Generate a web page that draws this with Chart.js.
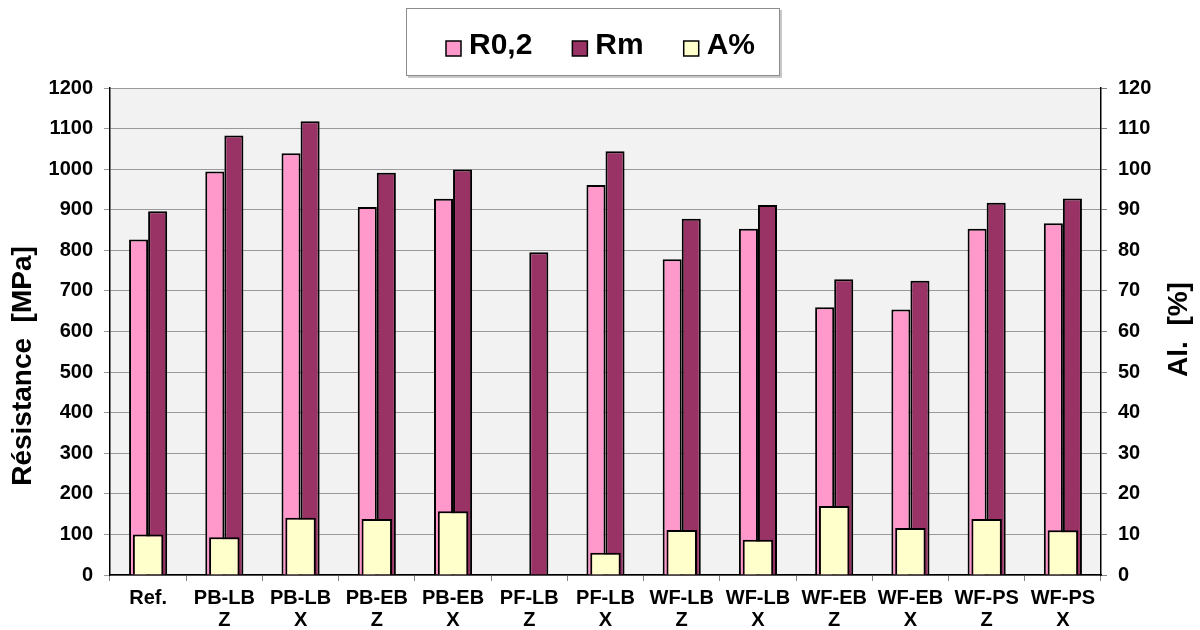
<!DOCTYPE html>
<html>
<head>
<meta charset="utf-8">
<script src="https://cdn.jsdelivr.net/npm/chart.js@4.4.1/dist/chart.umd.min.js"></script>
<style>
  html, body { margin: 0; padding: 0; background: #fff; }
  #wrap { width: 1200px; height: 630px; }
</style>
</head>
<body>
<div id="wrap"><canvas id="myChart" width="1200" height="630"></canvas></div>
<script>
// categories (two-line tick labels)
const categories = [
  ["Ref."], ["PB-LB", "Z"], ["PB-LB", "X"], ["PB-EB", "Z"], ["PB-EB", "X"],
  ["PF-LB", "Z"], ["PF-LB", "X"], ["WF-LB", "Z"], ["WF-LB", "X"],
  ["WF-EB", "Z"], ["WF-EB", "X"], ["WF-PS", "Z"], ["WF-PS", "X"]
];

// series values
const r02 = [827, 994, 1039, 907, 927, null, 961, 778, 853, 660, 654, 853, 867];
const rm = [896, 1083, 1118, 991, 999, 795, 1044, 878, 912, 729, 725, 917, 928];
const aPct = [10.0, 9.3, 14.1, 13.8, 15.7, null, 5.5, 11.1, 8.7, 17.0, 11.6, 13.8, 11.0];

const seriesNames = ["R0,2", "Rm", "A%"];
const leftTitle = "Résistance  [MPa]";
const rightTitle = "Al.  [%]";

const FONT = '"Liberation Sans", Arial, sans-serif';

// grey plot background
const plotBg = {
  id: "plotBg",
  beforeDraw(chart) {
    const { ctx, chartArea: a } = chart;
    ctx.save();
    ctx.fillStyle = "#f2f2f2";
    ctx.fillRect(a.left, a.top, a.right - a.left, a.bottom - a.top);
    ctx.restore();
  }
};

// boxed legend at the top + rotated axis titles
const extras = {
  id: "extras",
  afterDraw(chart) {
    const ctx = chart.ctx;
    const a = chart.chartArea;
    ctx.save();

    // legend frame
    ctx.fillStyle = "#c8c8c8";
    ctx.fillRect(408, 10, 374, 68);
    ctx.fillStyle = "#fff";
    ctx.fillRect(406, 8, 374, 68);
    ctx.strokeStyle = "#8c8c8c";
    ctx.lineWidth = 1;
    ctx.strokeRect(406.5, 8.5, 373, 67);

    ctx.font = "bold 30px " + FONT;
    ctx.textBaseline = "alphabetic";
    ctx.textAlign = "left";
    let x = 446;
    chart.data.datasets.forEach(ds => {
      ctx.fillStyle = ds.backgroundColor;
      ctx.fillRect(x, 41, 15, 15);
      ctx.strokeStyle = "#000";
      ctx.lineWidth = 1.5;
      ctx.strokeRect(x, 41, 15, 15);
      ctx.fillStyle = "#000";
      ctx.fillText(ds.label, x + 23, 53.5);
      x += 23 + ctx.measureText(ds.label).width + 40;
    });

    // axis titles, both reading bottom to top
    ctx.font = "bold 28px " + FONT;
    ctx.textAlign = "center";
    ctx.textBaseline = "middle";
    ctx.fillStyle = "#000";

    ctx.save();
    ctx.translate(23, 366);
    ctx.rotate(-Math.PI / 2);
    ctx.fillText(leftTitle, 0, 0);
    ctx.restore();

    ctx.save();
    ctx.translate(1179, (a.top + a.bottom) / 2 - 2);
    ctx.rotate(-Math.PI / 2);
    ctx.fillText(rightTitle, 0, 0);
    ctx.restore();

    ctx.restore();
  }
};

const tickFont = { family: FONT, size: 20, weight: "bold", lineHeight: 22 / 20 };

const config = {
  type: "bar",
  data: {
    labels: categories,
    datasets: [
      {
        label: seriesNames[0],
        data: r02,
        backgroundColor: "#ff99cc",
        borderColor: "#000",
        borderWidth: 2,
        yAxisID: "y",
        categoryPercentage: 0.5,
        barPercentage: 1,
        order: 1
      },
      {
        label: seriesNames[1],
        data: rm,
        backgroundColor: "#993366",
        borderColor: "#000",
        borderWidth: 2,
        yAxisID: "y",
        categoryPercentage: 0.5,
        barPercentage: 1,
        order: 1
      },
      {
        label: seriesNames[2],
        data: aPct,
        backgroundColor: "#ffffcc",
        borderColor: "#000",
        borderWidth: 2,
        yAxisID: "y2",
        grouped: false,
        categoryPercentage: 1,
        barPercentage: 0.4,
        order: 0
      }
    ]
  },
  options: {
    responsive: false,
    animation: false,
    layout: { padding: { top: 88, left: 0, right: 0, bottom: 0 } },
    plugins: {
      legend: { display: false },
      tooltip: { enabled: false }
    },
    scales: {
      x: {
        type: "category",
        offset: true,
        grid: {
          offset: true,
          drawOnChartArea: false,
          drawTicks: true,
          tickLength: 6,
          color: "#808080"
        },
        border: { color: "#000", width: 1.5 },
        ticks: {
          color: "#000",
          font: tickFont,
          padding: 6,
          maxRotation: 0,
          autoSkip: false
        },
        afterFit(scale) { scale.height = 55; }
      },
      y: {
        position: "left",
        min: 0,
        max: 1200,
        ticks: {
          stepSize: 100,
          color: "#000",
          font: { family: FONT, size: 20, weight: "bold" },
          padding: 11,
          callback: v => String(v)
        },
        grid: { color: "#999", lineWidth: 1, tickLength: 6 },
        border: { color: "#000", width: 1.5 },
        afterFit(scale) { scale.width = 110; }
      },
      y2: {
        position: "right",
        min: 0,
        max: 120,
        ticks: {
          stepSize: 10,
          color: "#000",
          font: { family: FONT, size: 20, weight: "bold" },
          padding: 11,
          callback: v => String(v)
        },
        grid: { drawOnChartArea: false, color: "#808080", tickLength: 6 },
        border: { color: "#000", width: 1.5 },
        afterFit(scale) { scale.width = 99; }
      }
    }
  },
  plugins: [plotBg, extras]
};

const ctx = document.getElementById("myChart").getContext("2d");
const myChart = new Chart(ctx, config);
</script>
</body>
</html>
